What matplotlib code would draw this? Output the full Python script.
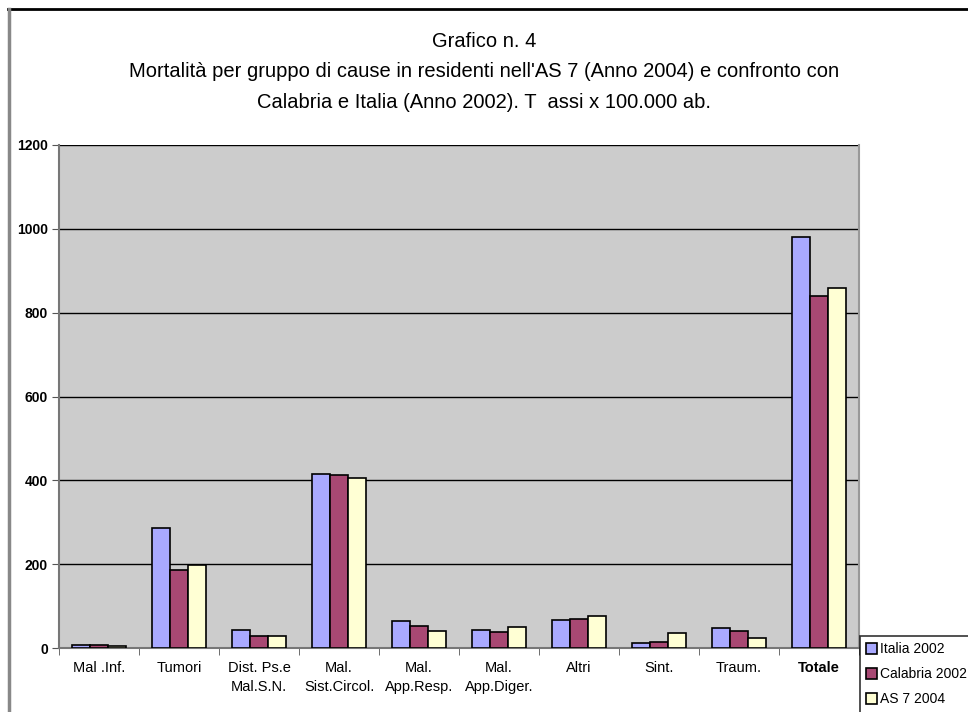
import numpy as np
import matplotlib
matplotlib.use("Agg")
import matplotlib.pyplot as plt
from matplotlib.lines import Line2D

plt.rcParams['font.family'] = ['Liberation Sans', 'DejaVu Sans']

# DATI
# ====
categorie = ["Mal .Inf.", "Tumori", "Dist. Ps.e\nMal.S.N.", "Mal.\nSist.Circol.",
             "Mal.\nApp.Resp.", "Mal.\nApp.Diger.", "Altri", "Sint.", "Traum.", "Totale"]
serie = ["Italia 2002", "Calabria 2002", "AS 7 2004"]
italia_2002 = [7, 286, 43, 414, 64, 43, 67, 12, 47, 981]
calabria_2002 = [7, 186, 29, 413, 52, 38, 68, 14, 41, 840]
as7_2004 = [5, 199, 29, 405, 41, 50, 76, 35, 24, 859]
colori = ["#A9A9FF", "#A84873", "#FFFFD4"]
y_ticks = [0, 200, 400, 600, 800, 1000, 1200]

fig = plt.figure(figsize=(9.68, 7.12), dpi=100)
ax = fig.add_axes([59 / 968, 1 - 648 / 712, 800 / 968, 503 / 712])
ax.set_facecolor("#CCCCCC")

x = np.arange(len(categorie))
w = 0.225
for i, (vals, col, lab) in enumerate(zip([italia_2002, calabria_2002, as7_2004], colori, serie)):
    ax.bar(x + (i - 1) * w, vals, width=w, color=col, edgecolor="black",
           linewidth=1.2, label=lab, zorder=3)

ax.set_xlim(-0.5, len(categorie) - 0.5)
ax.set_ylim(0, 1200)
ax.set_yticks(y_ticks)
ax.set_yticklabels([str(v) for v in y_ticks], fontweight="bold", fontsize=10)
for v in y_ticks[1:]:
    ax.axhline(v, color="black", linewidth=1, zorder=1)

ax.set_xticks(x)
ax.set_xticklabels(categorie, fontsize=10.5, linespacing=1.5)
ax.get_xticklabels()[-1].set_fontweight("bold")
ax.tick_params(axis="x", length=0, pad=9)
ax.set_xticks(np.arange(-0.5, len(categorie), 1), minor=True)
ax.tick_params(axis="x", which="minor", length=5, color="#555555", direction="out")
ax.tick_params(axis="y", length=5, color="#555555", direction="out", pad=3)

for s in ["left", "bottom"]:
    ax.spines[s].set_color("#777777")
    ax.spines[s].set_linewidth(1.5)
ax.spines["top"].set_visible(False)
ax.spines["right"].set_color("#999999")
ax.spines["right"].set_linewidth(1.5)

titolo = ("Grafico n. 4\nMortalità per gruppo di cause in residenti nell'AS 7 (Anno 2004) e confronto con\n"
          "Calabria e Italia (Anno 2002). T  assi x 100.000 ab.")
fig.text(0.5, 1 - 32 / 712, titolo, ha="center", va="top", fontsize=14.5, linespacing=1.75)

# bordo dell'area del grafico
fig.add_artist(Line2D([8 / 968, 1], [1 - 9 / 712, 1 - 9 / 712], color="black", linewidth=2,
                      transform=fig.transFigure))
fig.add_artist(Line2D([9 / 968, 9 / 968], [0, 1 - 9 / 712], color="#888888", linewidth=2.5,
                      transform=fig.transFigure))

leg = fig.legend(loc="upper left", bbox_to_anchor=(860 / 968, 1 - 636 / 712), frameon=True,
                 fancybox=False, edgecolor="black", fontsize=10, handlelength=0.8,
                 handleheight=0.8, handletextpad=0.2, borderpad=0.45, labelspacing=0.8,
                 borderaxespad=0)
leg.get_frame().set_linewidth(1.2)

fig.savefig("out.png", dpi=100)
